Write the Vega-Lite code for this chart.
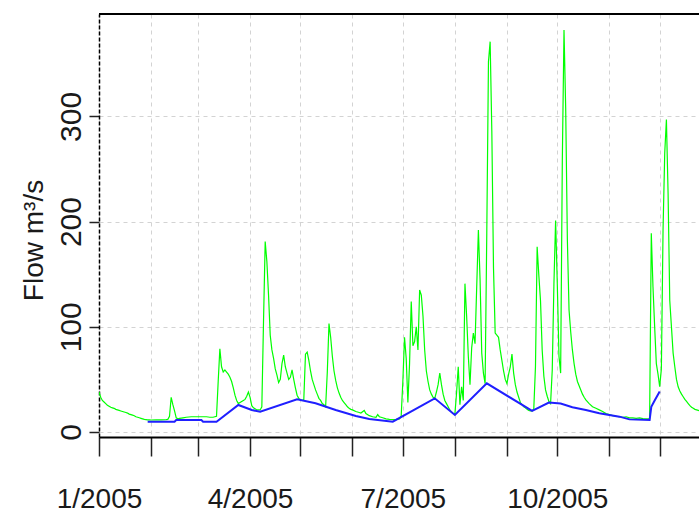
{
  "$schema": "https://vega.github.io/schema/vega-lite/v6.json",
  "width": 600,
  "height": 423,
  "autosize": {"type": "none"},
  "padding": {"left": 99, "top": 14, "right": 0, "bottom": 75},
  "background": "white",
  "config": {"view": {"stroke": null}, "font": "Liberation Sans"},
  "datasets": {
    "flow": [
      {"d": "2005-01-01", "q": 38}, {"d": "2005-01-02", "q": 33}, {"d": "2005-01-03", "q": 30}, {"d": "2005-01-04", "q": 28.5},
      {"d": "2005-01-05", "q": 27}, {"d": "2005-01-06", "q": 25.5}, {"d": "2005-01-07", "q": 24.5}, {"d": "2005-01-08", "q": 23.5},
      {"d": "2005-01-09", "q": 23}, {"d": "2005-01-10", "q": 22.5}, {"d": "2005-01-11", "q": 21.5}, {"d": "2005-01-12", "q": 21},
      {"d": "2005-01-13", "q": 20.5}, {"d": "2005-01-14", "q": 20}, {"d": "2005-01-15", "q": 19.5}, {"d": "2005-01-16", "q": 19},
      {"d": "2005-01-17", "q": 18.5}, {"d": "2005-01-18", "q": 18}, {"d": "2005-01-19", "q": 17}, {"d": "2005-01-20", "q": 16.5},
      {"d": "2005-01-21", "q": 16}, {"d": "2005-01-22", "q": 15.5}, {"d": "2005-01-23", "q": 14.5}, {"d": "2005-01-24", "q": 14},
      {"d": "2005-01-25", "q": 13.5}, {"d": "2005-01-26", "q": 13}, {"d": "2005-01-27", "q": 12.5}, {"d": "2005-01-28", "q": 12},
      {"d": "2005-01-29", "q": 11.8}, {"d": "2005-01-30", "q": 11.5}, {"d": "2005-01-31", "q": 11.5},
      {"d": "2005-02-01", "q": 11.4}, {"d": "2005-02-04", "q": 11.5}, {"d": "2005-02-07", "q": 11.5}, {"d": "2005-02-10", "q": 11.8},
      {"d": "2005-02-11", "q": 12}, {"d": "2005-02-12", "q": 15}, {"d": "2005-02-13", "q": 33}, {"d": "2005-02-14", "q": 26},
      {"d": "2005-02-15", "q": 20}, {"d": "2005-02-16", "q": 13.5}, {"d": "2005-02-17", "q": 12.5}, {"d": "2005-02-18", "q": 13},
      {"d": "2005-02-20", "q": 13.5}, {"d": "2005-02-22", "q": 14}, {"d": "2005-02-25", "q": 14.5}, {"d": "2005-02-28", "q": 14.5},
      {"d": "2005-03-03", "q": 14.5}, {"d": "2005-03-06", "q": 14.5}, {"d": "2005-03-08", "q": 14}, {"d": "2005-03-10", "q": 14},
      {"d": "2005-03-11", "q": 14.5}, {"d": "2005-03-12", "q": 15}, {"d": "2005-03-13", "q": 48}, {"d": "2005-03-14", "q": 79},
      {"d": "2005-03-15", "q": 62}, {"d": "2005-03-16", "q": 57}, {"d": "2005-03-17", "q": 59}, {"d": "2005-03-18", "q": 57},
      {"d": "2005-03-19", "q": 55}, {"d": "2005-03-20", "q": 52}, {"d": "2005-03-21", "q": 48}, {"d": "2005-03-22", "q": 42},
      {"d": "2005-03-23", "q": 35}, {"d": "2005-03-24", "q": 30}, {"d": "2005-03-25", "q": 27}, {"d": "2005-03-26", "q": 28},
      {"d": "2005-03-27", "q": 29}, {"d": "2005-03-28", "q": 30}, {"d": "2005-03-29", "q": 31}, {"d": "2005-03-30", "q": 34},
      {"d": "2005-03-31", "q": 38},
      {"d": "2005-04-01", "q": 33}, {"d": "2005-04-02", "q": 25}, {"d": "2005-04-03", "q": 23}, {"d": "2005-04-04", "q": 22},
      {"d": "2005-04-05", "q": 21}, {"d": "2005-04-06", "q": 21}, {"d": "2005-04-07", "q": 21}, {"d": "2005-04-08", "q": 24},
      {"d": "2005-04-09", "q": 105}, {"d": "2005-04-10", "q": 181}, {"d": "2005-04-11", "q": 162}, {"d": "2005-04-12", "q": 130},
      {"d": "2005-04-13", "q": 92}, {"d": "2005-04-14", "q": 78}, {"d": "2005-04-15", "q": 70}, {"d": "2005-04-16", "q": 60},
      {"d": "2005-04-17", "q": 54}, {"d": "2005-04-18", "q": 47}, {"d": "2005-04-19", "q": 50}, {"d": "2005-04-20", "q": 65},
      {"d": "2005-04-21", "q": 73}, {"d": "2005-04-22", "q": 62}, {"d": "2005-04-23", "q": 56}, {"d": "2005-04-24", "q": 50},
      {"d": "2005-04-25", "q": 52}, {"d": "2005-04-26", "q": 59}, {"d": "2005-04-27", "q": 50}, {"d": "2005-04-28", "q": 42},
      {"d": "2005-04-29", "q": 35}, {"d": "2005-04-30", "q": 32},
      {"d": "2005-05-01", "q": 30.5}, {"d": "2005-05-02", "q": 30}, {"d": "2005-05-03", "q": 31}, {"d": "2005-05-04", "q": 74},
      {"d": "2005-05-05", "q": 76}, {"d": "2005-05-06", "q": 68}, {"d": "2005-05-07", "q": 58}, {"d": "2005-05-08", "q": 50},
      {"d": "2005-05-09", "q": 45}, {"d": "2005-05-10", "q": 40}, {"d": "2005-05-11", "q": 36}, {"d": "2005-05-12", "q": 32},
      {"d": "2005-05-13", "q": 30}, {"d": "2005-05-14", "q": 27}, {"d": "2005-05-15", "q": 26}, {"d": "2005-05-16", "q": 24},
      {"d": "2005-05-17", "q": 57}, {"d": "2005-05-18", "q": 103}, {"d": "2005-05-19", "q": 90}, {"d": "2005-05-20", "q": 72},
      {"d": "2005-05-21", "q": 58}, {"d": "2005-05-22", "q": 49}, {"d": "2005-05-23", "q": 42}, {"d": "2005-05-24", "q": 37},
      {"d": "2005-05-25", "q": 33}, {"d": "2005-05-26", "q": 30}, {"d": "2005-05-27", "q": 28}, {"d": "2005-05-28", "q": 26},
      {"d": "2005-05-29", "q": 24}, {"d": "2005-05-30", "q": 22.5}, {"d": "2005-05-31", "q": 21.5},
      {"d": "2005-06-01", "q": 21}, {"d": "2005-06-03", "q": 19.5}, {"d": "2005-06-05", "q": 18.5}, {"d": "2005-06-06", "q": 18},
      {"d": "2005-06-08", "q": 20.5}, {"d": "2005-06-09", "q": 17.5}, {"d": "2005-06-11", "q": 15.5}, {"d": "2005-06-13", "q": 14.5},
      {"d": "2005-06-15", "q": 14}, {"d": "2005-06-16", "q": 16.5}, {"d": "2005-06-17", "q": 14.5}, {"d": "2005-06-19", "q": 13.5},
      {"d": "2005-06-21", "q": 12.5}, {"d": "2005-06-23", "q": 12}, {"d": "2005-06-25", "q": 11.8}, {"d": "2005-06-27", "q": 12},
      {"d": "2005-06-29", "q": 12.5}, {"d": "2005-06-30", "q": 15},
      {"d": "2005-07-01", "q": 48}, {"d": "2005-07-02", "q": 90}, {"d": "2005-07-03", "q": 70}, {"d": "2005-07-04", "q": 28},
      {"d": "2005-07-05", "q": 65}, {"d": "2005-07-06", "q": 124}, {"d": "2005-07-07", "q": 82}, {"d": "2005-07-08", "q": 86},
      {"d": "2005-07-09", "q": 100}, {"d": "2005-07-10", "q": 78}, {"d": "2005-07-11", "q": 135}, {"d": "2005-07-12", "q": 130},
      {"d": "2005-07-13", "q": 110}, {"d": "2005-07-14", "q": 78}, {"d": "2005-07-15", "q": 58}, {"d": "2005-07-16", "q": 48},
      {"d": "2005-07-17", "q": 40}, {"d": "2005-07-18", "q": 36}, {"d": "2005-07-19", "q": 33}, {"d": "2005-07-20", "q": 32},
      {"d": "2005-07-21", "q": 38}, {"d": "2005-07-22", "q": 45}, {"d": "2005-07-23", "q": 56}, {"d": "2005-07-24", "q": 45},
      {"d": "2005-07-25", "q": 36}, {"d": "2005-07-26", "q": 30}, {"d": "2005-07-27", "q": 27}, {"d": "2005-07-28", "q": 24},
      {"d": "2005-07-29", "q": 21}, {"d": "2005-07-30", "q": 19}, {"d": "2005-07-31", "q": 17.5},
      {"d": "2005-08-01", "q": 17}, {"d": "2005-08-02", "q": 37}, {"d": "2005-08-03", "q": 62}, {"d": "2005-08-04", "q": 26},
      {"d": "2005-08-05", "q": 43}, {"d": "2005-08-06", "q": 30}, {"d": "2005-08-07", "q": 141}, {"d": "2005-08-08", "q": 110},
      {"d": "2005-08-09", "q": 72}, {"d": "2005-08-10", "q": 45}, {"d": "2005-08-11", "q": 80}, {"d": "2005-08-12", "q": 94},
      {"d": "2005-08-13", "q": 84}, {"d": "2005-08-14", "q": 138}, {"d": "2005-08-15", "q": 192}, {"d": "2005-08-16", "q": 145},
      {"d": "2005-08-17", "q": 75}, {"d": "2005-08-18", "q": 56}, {"d": "2005-08-19", "q": 46}, {"d": "2005-08-20", "q": 189},
      {"d": "2005-08-21", "q": 352}, {"d": "2005-08-22", "q": 371}, {"d": "2005-08-23", "q": 286}, {"d": "2005-08-24", "q": 156},
      {"d": "2005-08-25", "q": 94}, {"d": "2005-08-26", "q": 92}, {"d": "2005-08-27", "q": 90}, {"d": "2005-08-28", "q": 78},
      {"d": "2005-08-29", "q": 68}, {"d": "2005-08-30", "q": 58}, {"d": "2005-08-31", "q": 50},
      {"d": "2005-09-01", "q": 46}, {"d": "2005-09-02", "q": 55}, {"d": "2005-09-03", "q": 62}, {"d": "2005-09-04", "q": 74},
      {"d": "2005-09-05", "q": 56}, {"d": "2005-09-06", "q": 45}, {"d": "2005-09-07", "q": 38}, {"d": "2005-09-08", "q": 33},
      {"d": "2005-09-09", "q": 28}, {"d": "2005-09-10", "q": 26}, {"d": "2005-09-11", "q": 24}, {"d": "2005-09-12", "q": 23},
      {"d": "2005-09-13", "q": 21.5}, {"d": "2005-09-14", "q": 20.5}, {"d": "2005-09-15", "q": 20}, {"d": "2005-09-16", "q": 20},
      {"d": "2005-09-17", "q": 22}, {"d": "2005-09-18", "q": 62}, {"d": "2005-09-19", "q": 176}, {"d": "2005-09-20", "q": 149},
      {"d": "2005-09-21", "q": 125}, {"d": "2005-09-22", "q": 78}, {"d": "2005-09-23", "q": 53}, {"d": "2005-09-24", "q": 40},
      {"d": "2005-09-25", "q": 34}, {"d": "2005-09-26", "q": 29}, {"d": "2005-09-27", "q": 27}, {"d": "2005-09-28", "q": 59},
      {"d": "2005-09-29", "q": 141}, {"d": "2005-09-30", "q": 201},
      {"d": "2005-10-01", "q": 141}, {"d": "2005-10-02", "q": 72}, {"d": "2005-10-03", "q": 56}, {"d": "2005-10-04", "q": 258},
      {"d": "2005-10-05", "q": 382}, {"d": "2005-10-06", "q": 308}, {"d": "2005-10-07", "q": 183}, {"d": "2005-10-08", "q": 116},
      {"d": "2005-10-09", "q": 95}, {"d": "2005-10-10", "q": 78}, {"d": "2005-10-11", "q": 65}, {"d": "2005-10-12", "q": 55},
      {"d": "2005-10-13", "q": 48}, {"d": "2005-10-14", "q": 44}, {"d": "2005-10-15", "q": 40}, {"d": "2005-10-16", "q": 36},
      {"d": "2005-10-17", "q": 33}, {"d": "2005-10-18", "q": 30.5}, {"d": "2005-10-20", "q": 27}, {"d": "2005-10-22", "q": 24},
      {"d": "2005-10-24", "q": 22.5}, {"d": "2005-10-26", "q": 21}, {"d": "2005-10-28", "q": 19.5}, {"d": "2005-10-30", "q": 17.5},
      {"d": "2005-11-01", "q": 16.5}, {"d": "2005-11-03", "q": 15.5}, {"d": "2005-11-05", "q": 15}, {"d": "2005-11-07", "q": 14.5},
      {"d": "2005-11-09", "q": 14}, {"d": "2005-11-11", "q": 14.5}, {"d": "2005-11-13", "q": 13.5}, {"d": "2005-11-15", "q": 13.5},
      {"d": "2005-11-17", "q": 13}, {"d": "2005-11-19", "q": 13.5}, {"d": "2005-11-21", "q": 12.8}, {"d": "2005-11-23", "q": 12.5},
      {"d": "2005-11-25", "q": 12.4}, {"d": "2005-11-26", "q": 189}, {"d": "2005-11-27", "q": 138}, {"d": "2005-11-28", "q": 100},
      {"d": "2005-11-29", "q": 65}, {"d": "2005-11-30", "q": 55},
      {"d": "2005-12-01", "q": 43}, {"d": "2005-12-02", "q": 60}, {"d": "2005-12-03", "q": 192}, {"d": "2005-12-04", "q": 265},
      {"d": "2005-12-05", "q": 297}, {"d": "2005-12-06", "q": 227}, {"d": "2005-12-07", "q": 125}, {"d": "2005-12-08", "q": 100},
      {"d": "2005-12-09", "q": 75}, {"d": "2005-12-10", "q": 62}, {"d": "2005-12-11", "q": 50}, {"d": "2005-12-12", "q": 43},
      {"d": "2005-12-13", "q": 39}, {"d": "2005-12-14", "q": 36}, {"d": "2005-12-15", "q": 33.5}, {"d": "2005-12-16", "q": 31},
      {"d": "2005-12-17", "q": 29}, {"d": "2005-12-18", "q": 27}, {"d": "2005-12-19", "q": 25}, {"d": "2005-12-20", "q": 23.5},
      {"d": "2005-12-21", "q": 22.5}, {"d": "2005-12-22", "q": 21.5}, {"d": "2005-12-23", "q": 21}, {"d": "2005-12-24", "q": 20.5},
      {"d": "2005-12-25", "q": 20}
    ],
    "baseflow": [
      {"d": "2005-01-30", "q": 9.8}, {"d": "2005-02-15", "q": 9.8}, {"d": "2005-02-16", "q": 11.4}, {"d": "2005-03-03", "q": 11.4},
      {"d": "2005-03-04", "q": 9.8}, {"d": "2005-03-12", "q": 9.8}, {"d": "2005-03-25", "q": 25.7}, {"d": "2005-04-02", "q": 20.9},
      {"d": "2005-04-07", "q": 19.3}, {"d": "2005-04-29", "q": 31}, {"d": "2005-05-10", "q": 27.3}, {"d": "2005-05-22", "q": 20.9},
      {"d": "2005-06-03", "q": 15.2}, {"d": "2005-06-11", "q": 12.4}, {"d": "2005-06-25", "q": 9.8}, {"d": "2005-07-20", "q": 32},
      {"d": "2005-08-01", "q": 16.2}, {"d": "2005-08-20", "q": 46.3}, {"d": "2005-09-16", "q": 20}, {"d": "2005-09-26", "q": 28},
      {"d": "2005-10-03", "q": 27}, {"d": "2005-10-10", "q": 23.5}, {"d": "2005-10-18", "q": 21}, {"d": "2005-10-26", "q": 17.8},
      {"d": "2005-11-01", "q": 16.2}, {"d": "2005-11-07", "q": 14.6}, {"d": "2005-11-13", "q": 12}, {"d": "2005-11-25", "q": 11.5},
      {"d": "2005-11-26", "q": 24}, {"d": "2005-11-28", "q": 30}, {"d": "2005-12-01", "q": 38.5}
    ]
  },
  "layer": [
    {
      "data": {"name": "flow", "format": {"parse": {"d": "utc:'%Y-%m-%d'"}}},
      "mark": {"type": "line", "color": "#00ff00", "strokeWidth": 1.2, "clip": true},
      "encoding": {
        "x": {
          "field": "d",
          "type": "temporal",
          "scale": {
            "type": "utc",
            "domain": [
              {"year": 2005, "month": 1, "date": 1, "utc": true},
              {"year": 2005, "month": 12, "date": 24, "hours": 10, "utc": true}
            ]
          },
          "axis": {
            "title": null,
            "values": [
              {"year": 2005, "month": 1, "date": 1, "utc": true},
              {"year": 2005, "month": 2, "date": 1, "utc": true},
              {"year": 2005, "month": 3, "date": 1, "utc": true},
              {"year": 2005, "month": 4, "date": 1, "utc": true},
              {"year": 2005, "month": 5, "date": 1, "utc": true},
              {"year": 2005, "month": 6, "date": 1, "utc": true},
              {"year": 2005, "month": 7, "date": 1, "utc": true},
              {"year": 2005, "month": 8, "date": 1, "utc": true},
              {"year": 2005, "month": 9, "date": 1, "utc": true},
              {"year": 2005, "month": 10, "date": 1, "utc": true},
              {"year": 2005, "month": 11, "date": 1, "utc": true},
              {"year": 2005, "month": 12, "date": 1, "utc": true}
            ],
            "labelExpr": "utcmonth(datum.value) % 3 == 0 ? (utcmonth(datum.value) + 1) + '/' + utcyear(datum.value) : ''",
            "labelFont": "Liberation Sans",
            "labelFontSize": 28,
            "labelColor": "#1a1a1a",
            "labelAlign": "center",
            "labelBaseline": "alphabetic",
            "labelPadding": 51,
            "labelOverlap": false,
            "labelFlush": false,
            "labelBound": false,
            "domainColor": "black",
            "domainWidth": 2,
            "tickColor": "#222222",
            "tickWidth": 1.5,
            "tickSize": 19,
            "grid": true,
            "gridColor": "#d3d3d3",
            "gridDash": [4, 4],
            "gridWidth": 1
          }
        },
        "y": {
          "field": "q",
          "type": "quantitative",
          "scale": {"domain": [-4.75, 397.3], "nice": false, "zero": false},
          "axis": {
            "values": [0, 100, 200, 300],
            "title": "Flow m³/s",
            "titleFont": "Liberation Sans",
            "titleFontSize": 28,
            "titleFontWeight": "normal",
            "titleColor": "#1a1a1a",
            "titleAngle": -90,
            "titleX": -57,
            "titleY": 226,
            "titleAlign": "center",
            "titleBaseline": "alphabetic",
            "labelFont": "Liberation Sans",
            "labelFontSize": 30,
            "labelColor": "#1a1a1a",
            "labelAngle": -90,
            "labelAlign": "center",
            "labelBaseline": "alphabetic",
            "labelPadding": 9,
            "tickSize": 10,
            "tickColor": "#222222",
            "tickWidth": 1.5,
            "domainColor": "black",
            "domainDash": [4, 2],
            "domainWidth": 1.5,
            "grid": true,
            "gridColor": "#d3d3d3",
            "gridDash": [4, 4],
            "gridWidth": 1
          }
        }
      }
    },
    {
      "data": {"name": "baseflow", "format": {"parse": {"d": "utc:'%Y-%m-%d'"}}},
      "mark": {"type": "line", "color": "#1f1fff", "strokeWidth": 2, "clip": true},
      "encoding": {
        "x": {"field": "d", "type": "temporal"},
        "y": {"field": "q", "type": "quantitative"}
      }
    },
    {
      "data": {"values": [{}]},
      "mark": {"type": "rule", "color": "black", "strokeWidth": 2},
      "encoding": {"y": {"datum": 397.3}}
    }
  ]
}
